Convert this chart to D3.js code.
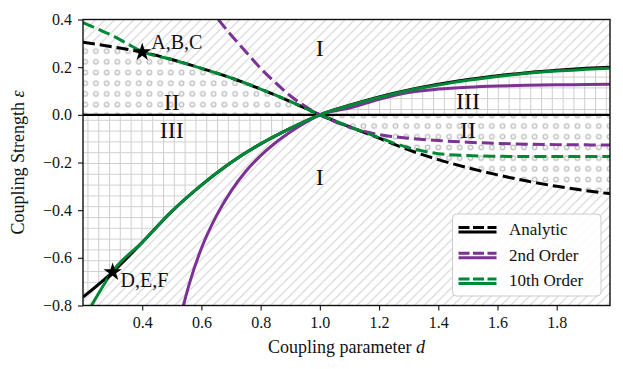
<!DOCTYPE html>
<html>
<head>
<meta charset="utf-8">
<script src="https://cdn.jsdelivr.net/npm/d3@7/dist/d3.min.js"></script>
<style>
body { margin: 0; background: #fff; }
svg text { font-family: "Liberation Serif", "Times New Roman", serif !important; fill: #111; }
</style>
</head>
<body>
<div id="chart"></div>
<script>
// values
const dAnalytic = [0.2, 0.3, 0.4, 0.5, 0.6, 0.7, 0.8, 0.9, 1.0, 1.1, 1.2, 1.3, 1.4, 1.5, 1.6, 1.7, 1.8, 1.9, 1.98];
const analyticDashed = [0.305, 0.285, 0.263, 0.232, 0.195, 0.155, 0.108, 0.056, 0, -0.05, -0.098, -0.147, -0.188, -0.222, -0.252, -0.278, -0.300, -0.318, -0.331];
const analyticSolid = [-0.765, -0.66, -0.535, -0.405, -0.295, -0.2, -0.122, -0.057, 0, 0.04, 0.075, 0.104, 0.128, 0.148, 0.164, 0.177, 0.187, 0.195, 0.200];

const dOrder10Dashed = [0.2, 0.25, 0.3, 0.35, 0.4, 0.5, 0.6, 0.7, 0.8, 0.9, 1.0, 1.1, 1.2, 1.3, 1.4, 1.5, 1.6, 1.7, 1.8, 1.9, 1.98];
const order10Dashed = [0.387, 0.36, 0.332, 0.298, 0.265, 0.232, 0.195, 0.155, 0.108, 0.056, 0, -0.049, -0.096, -0.138, -0.163, -0.171, -0.174, -0.175, -0.175, -0.175, -0.175];
const dOrder10Solid = [0.229, 0.25, 0.3, 0.4, 0.5, 0.6, 0.7, 0.8, 0.9, 1.0, 1.1, 1.2, 1.3, 1.4, 1.5, 1.6, 1.7, 1.8, 1.9, 1.98];
const order10Solid = [-0.80, -0.755, -0.657, -0.535, -0.405, -0.295, -0.2, -0.122, -0.057, 0, 0.039, 0.073, 0.102, 0.125, 0.145, 0.161, 0.174, 0.184, 0.191, 0.196];

const dOrder2Dashed = [0.657, 0.7, 0.75, 0.8, 0.85, 0.9, 0.95, 1.0, 1.05, 1.1, 1.2, 1.3, 1.4, 1.5, 1.6, 1.7, 1.8, 1.9, 1.98];
const order2Dashed = [0.40, 0.335, 0.265, 0.195, 0.135, 0.08, 0.036, 0, -0.028, -0.052, -0.083, -0.098, -0.108, -0.115, -0.120, -0.123, -0.125, -0.126, -0.127];
const dOrder2Solid = [0.539, 0.56, 0.6, 0.65, 0.7, 0.75, 0.8, 0.85, 0.9, 0.95, 1.0, 1.1, 1.2, 1.3, 1.4, 1.5, 1.6, 1.7, 1.8, 1.9, 1.98];
const order2Solid = [-0.80, -0.705, -0.56, -0.425, -0.32, -0.237, -0.171, -0.117, -0.072, -0.033, 0, 0.028, 0.065, 0.094, 0.108, 0.116, 0.121, 0.124, 0.126, 0.127, 0.128];

const starPoints = [{d: 0.4, e: 0.263, label: 'A,B,C'}, {d: 0.3, e: -0.66, label: 'D,E,F'}];
const regionLabels = [
    {d: 1.0, e: 0.28, text: 'I'}, {d: 1.0, e: -0.26, text: 'I'},
    {d: 0.5, e: 0.055, text: 'II'}, {d: 0.5, e: -0.065, text: 'III'},
    {d: 1.5, e: 0.06, text: 'III'}, {d: 1.5, e: -0.065, text: 'II'}
];
const xTicks = [0.4, 0.6, 0.8, 1.0, 1.2, 1.4, 1.6, 1.8];
const yTicks = [0.4, 0.2, 0.0, -0.2, -0.4, -0.6, -0.8];
const legendNames = ['Analytic', '2nd Order', '10th Order'];
const legendColors = ['#000000', '#7b3294', '#008837'];

const width = 623;
const height = 369;
const margin = {top: 19.5, left: 83, bottom: 63.5, right: 13};
const serif = '"Liberation Serif", "Times New Roman", serif';

const x = d3.scaleLinear()
    .domain([0.2, 1.98])
    .range([margin.left, width - margin.right]);

const y = d3.scaleLinear()
    .domain([-0.8, 0.4])
    .range([height - margin.bottom, margin.top]);

const zip = (ds, es) => ds.map((d, i) => ({d: d, e: es[i]}));

const svg = d3.select('#chart').append('svg')
    .attr('width', width).attr('height', height)
    .attr('font-family', serif);

// hatch patterns_________________________________________________________________
const defs = svg.append('defs');
const hatchColor = '#d0d0d0';

const s = 9.6;
defs.append('pattern').attr('id', 'diag')
    .attr('patternUnits', 'userSpaceOnUse')
    .attr('width', s).attr('height', s)
    .append('path')
    .attr('d', `M0,${s} L${s},0 M${-s / 2},${s / 2} L${s / 2},${-s / 2} M${s / 2},${s * 1.5} L${s * 1.5},${s / 2}`)
    .attr('stroke', hatchColor).attr('stroke-width', 1);

const g = 10.8;
const grid = defs.append('pattern').attr('id', 'grid')
    .attr('patternUnits', 'userSpaceOnUse')
    .attr('x', 1).attr('y', 1)
    .attr('width', g).attr('height', g);
grid.append('rect').attr('width', g).attr('height', g).attr('fill', '#fff');
grid.append('path')
    .attr('d', `M0.5,0 V${g} M0,0.5 H${g}`)
    .attr('stroke', hatchColor).attr('stroke-width', 1.1);

const o = 10.7;
const dots = defs.append('pattern').attr('id', 'dots')
    .attr('patternUnits', 'userSpaceOnUse')
    .attr('x', 5).attr('y', 3)
    .attr('width', o).attr('height', o);
dots.append('rect').attr('width', o).attr('height', o).attr('fill', '#fff');
dots.append('circle')
    .attr('cx', o / 2).attr('cy', o / 2).attr('r', 2.2)
    .attr('fill', 'none').attr('stroke', '#c4c4c4').attr('stroke-width', 1.5);

defs.append('clipPath').attr('id', 'plotClip')
    .append('rect')
    .attr('x', margin.left).attr('y', margin.top)
    .attr('width', width - margin.left - margin.right)
    .attr('height', height - margin.top - margin.bottom);

const plot = svg.append('g').attr('clip-path', 'url(#plotClip)');

// region I everywhere, then II and III on top
plot.append('rect')
    .attr('x', margin.left).attr('y', margin.top)
    .attr('width', width - margin.left - margin.right)
    .attr('height', height - margin.top - margin.bottom)
    .attr('fill', 'url(#diag)');

const band = d3.area()
    .x(p => x(p.d))
    .y0(y(0))
    .y1(p => y(p.e))
    .curve(d3.curveMonotoneX);

plot.append('path').datum(zip(dAnalytic, analyticDashed))
    .attr('d', band).attr('fill', 'url(#dots)');
plot.append('path').datum(zip(dAnalytic, analyticSolid))
    .attr('d', band).attr('fill', 'url(#grid)');

// zero line
plot.append('line')
    .attr('x1', margin.left).attr('x2', width - margin.right)
    .attr('y1', y(0)).attr('y2', y(0))
    .attr('stroke', '#000').attr('stroke-width', 2.4);

// curves_________________________________________________________________________
const line = d3.line()
    .x(p => x(p.d))
    .y(p => y(p.e))
    .curve(d3.curveMonotoneX);

const curves = [
    {data: zip(dAnalytic, analyticSolid), color: legendColors[0], dash: null},
    {data: zip(dAnalytic, analyticDashed), color: legendColors[0], dash: '12,5'},
    {data: zip(dOrder2Solid, order2Solid), color: legendColors[1], dash: null},
    {data: zip(dOrder2Dashed, order2Dashed), color: legendColors[1], dash: '12,5'},
    {data: zip(dOrder10Solid, order10Solid), color: legendColors[2], dash: null},
    {data: zip(dOrder10Dashed, order10Dashed), color: legendColors[2], dash: '12,5'}
];

plot.selectAll('.curve').data(curves).enter().append('path')
    .attr('class', 'curve')
    .attr('d', c => line(c.data))
    .attr('fill', 'none')
    .attr('stroke', c => c.color)
    .attr('stroke-width', 3)
    .attr('stroke-dasharray', c => c.dash);

// stars
const star = d3.symbol().type(d3.symbolStar).size(105);
plot.selectAll('.star').data(starPoints).enter().append('path')
    .attr('class', 'star')
    .attr('transform', p => `translate(${x(p.d)},${y(p.e)})`)
    .attr('d', star)
    .attr('fill', '#000');

svg.append('text').attr('x', x(0.4) + 9).attr('y', y(0.263) - 3)
    .style('font-size', '20px').text(starPoints[0].label);
svg.append('text').attr('x', x(0.3) + 8).attr('y', y(-0.66) + 15)
    .style('font-size', '20px').text(starPoints[1].label);

svg.selectAll('.region').data(regionLabels).enter().append('text')
    .attr('class', 'region')
    .attr('x', r => x(r.d)).attr('y', r => y(r.e))
    .attr('text-anchor', 'middle')
    .attr('dominant-baseline', 'central')
    .style('font-size', '24px')
    .text(r => r.text);

// axes___________________________________________________________________________
const fmt = v => d3.format('.1f')(v).replace('-', '\u2212');

const xAxis = svg.append('g')
    .attr('transform', `translate(0, ${height - margin.bottom})`)
    .call(d3.axisBottom(x).tickValues(xTicks).tickFormat(fmt).tickSize(5).tickSizeOuter(0).tickPadding(6));
const yAxis = svg.append('g')
    .attr('transform', `translate(${margin.left}, 0)`)
    .call(d3.axisLeft(y).tickValues(yTicks).tickFormat(fmt).tickSize(5).tickSizeOuter(0).tickPadding(6));

[xAxis, yAxis].forEach(a => {
    a.attr('font-family', serif).attr('font-size', 16);
    a.select('.domain').remove();
    a.selectAll('line').attr('stroke', '#111').attr('stroke-width', 1.1);
    a.selectAll('text').attr('fill', '#111');
});

// frame
svg.append('rect')
    .attr('x', margin.left).attr('y', margin.top)
    .attr('width', width - margin.left - margin.right)
    .attr('height', height - margin.top - margin.bottom)
    .attr('fill', 'none').attr('stroke', '#111').attr('stroke-width', 1.4);

svg.append('text')
    .attr('x', (margin.left + width - margin.right) / 2).attr('y', 353)
    .attr('text-anchor', 'middle')
    .style('font-size', '18px')
    .html('Coupling parameter <tspan font-style="italic">d</tspan>');

svg.append('text')
    .attr('transform', `translate(24, ${(margin.top + height - margin.bottom) / 2}) rotate(-90)`)
    .attr('text-anchor', 'middle')
    .style('font-size', '18px')
    .html('Coupling Strength <tspan font-style="italic">ε</tspan>');

// legend_________________________________________________________________________
const legend = svg.append('g').attr('transform', 'translate(452.5, 214)');
legend.append('rect')
    .attr('width', 148.5).attr('height', 82)
    .attr('rx', 4)
    .attr('fill', '#fff').attr('fill-opacity', 0.85)
    .attr('stroke', '#ccc').attr('stroke-width', 1);

const rows = legend.selectAll('.row').data(legendNames).enter().append('g')
    .attr('class', 'row')
    .attr('transform', (n, i) => `translate(0, ${15.5 + i * 25.7})`);
rows.append('line')
    .attr('x1', 6).attr('x2', 44).attr('y1', -2).attr('y2', -2)
    .attr('stroke', (n, i) => legendColors[i]).attr('stroke-width', 3)
    .attr('stroke-dasharray', '11,3.5');
rows.append('line')
    .attr('x1', 6).attr('x2', 44).attr('y1', 2.5).attr('y2', 2.5)
    .attr('stroke', (n, i) => legendColors[i]).attr('stroke-width', 3);
rows.append('text')
    .attr('x', 56.5).attr('y', 0)
    .attr('dominant-baseline', 'central')
    .style('font-size', '17px')
    .text(n => n);
</script>
</body>
</html>
